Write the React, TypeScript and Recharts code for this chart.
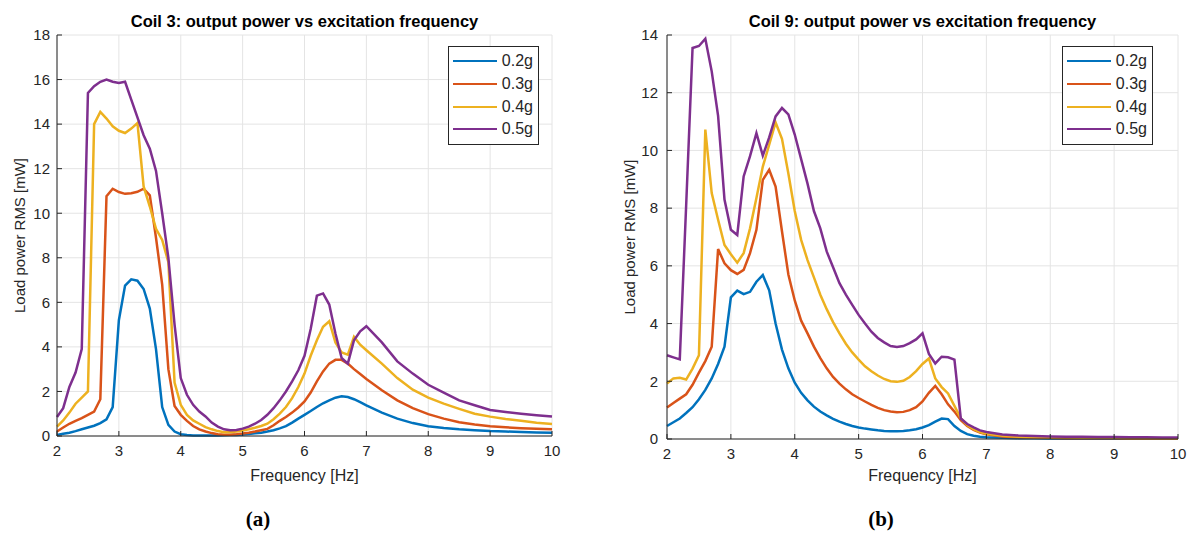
import { LineChart, Line, XAxis, YAxis, CartesianGrid, Legend } from 'recharts';

// frequency grid [Hz]
const freq = [
  2.0, 2.1, 2.2, 2.3, 2.4, 2.5, 2.6, 2.7, 2.8, 2.9,
  3.0, 3.1, 3.2, 3.3, 3.4, 3.5, 3.6, 3.7, 3.8, 3.9,
  4.0, 4.1, 4.2, 4.3, 4.4, 4.5, 4.6, 4.7, 4.8, 4.9,
  5.0, 5.1, 5.2, 5.3, 5.4, 5.5, 5.6, 5.7, 5.8, 5.9,
  6.0, 6.1, 6.2, 6.3, 6.4, 6.5, 6.6, 6.7, 6.8, 6.9,
  7.0, 7.25, 7.5, 7.75, 8.0, 8.25, 8.5, 8.75, 9.0, 9.25, 9.5, 9.75, 10.0,
];

// Coil 3 (a)
const coil3_02g = [
  0.05, 0.1, 0.15, 0.22, 0.3, 0.38, 0.46, 0.58, 0.75, 1.3,
  5.2, 6.75, 7.03, 6.97, 6.6, 5.72, 3.9, 1.3, 0.5, 0.2,
  0.08, 0.04, 0.02, 0.02, 0.02, 0.02, 0.02, 0.03, 0.04, 0.05,
  0.07, 0.09, 0.12, 0.15, 0.2, 0.26, 0.34, 0.44, 0.6, 0.78,
  0.95, 1.12, 1.3, 1.47, 1.6, 1.72, 1.78, 1.75, 1.65, 1.52,
  1.38, 1.05, 0.78, 0.58, 0.44, 0.36, 0.3, 0.26, 0.22, 0.2, 0.18, 0.16, 0.15,
];
const coil3_03g = [
  0.2, 0.38, 0.55, 0.68, 0.8, 0.95, 1.1, 1.65, 10.76, 11.1,
  10.95, 10.87, 10.9, 10.96, 11.1, 10.8, 8.9, 6.8, 3.0, 1.35,
  0.95, 0.68, 0.45, 0.3, 0.2, 0.13, 0.08, 0.06, 0.06, 0.08,
  0.11, 0.15, 0.2, 0.26, 0.32, 0.48, 0.68, 0.85, 1.05, 1.28,
  1.55, 1.95, 2.45, 2.9, 3.25, 3.42, 3.42, 3.25, 3.0, 2.78,
  2.56, 2.05, 1.6, 1.25, 0.98, 0.78, 0.62, 0.52, 0.44, 0.39, 0.35, 0.32, 0.3,
];
const coil3_04g = [
  0.42, 0.7, 1.05, 1.45, 1.72, 2.0, 14.0, 14.55, 14.25, 13.9,
  13.7, 13.6, 13.8, 14.05, 11.2, 10.3, 9.3, 8.8, 7.8, 2.4,
  1.4, 0.95, 0.7, 0.55, 0.4, 0.3, 0.22, 0.17, 0.17, 0.2,
  0.25, 0.3, 0.37, 0.45, 0.55, 0.75, 1.0, 1.3, 1.7, 2.2,
  2.8, 3.6, 4.3, 4.9, 5.15, 4.2, 3.75, 3.65, 4.45, 4.1,
  3.85, 3.25, 2.6, 2.08, 1.72, 1.45, 1.22, 1.0, 0.87, 0.76, 0.68, 0.6, 0.54,
];
const coil3_05g = [
  0.85, 1.25, 2.2, 2.85, 3.9, 15.4, 15.7, 15.9, 16.0, 15.9,
  15.85, 15.9, 15.1, 14.3, 13.5, 12.9, 11.9, 10.0, 8.0, 5.0,
  2.6, 1.85, 1.4, 1.1, 0.88, 0.6, 0.42, 0.3, 0.26, 0.27,
  0.33, 0.42, 0.55, 0.72, 0.95, 1.25, 1.6, 2.0, 2.45, 2.95,
  3.6, 4.8, 6.3, 6.4, 5.9, 4.6, 3.5, 3.25, 4.3, 4.7,
  4.93, 4.2, 3.35, 2.8, 2.3, 1.95, 1.6, 1.38, 1.17, 1.08, 1.0, 0.93, 0.87,
];

// Coil 9 (b)
const coil9_02g = [
  0.45, 0.58, 0.71, 0.9, 1.1, 1.38, 1.7, 2.1, 2.6, 3.2,
  4.91, 5.14, 5.02, 5.1, 5.45, 5.68, 5.15, 4.0, 3.1, 2.45,
  1.95, 1.6, 1.34, 1.12, 0.95, 0.82, 0.7, 0.6, 0.52, 0.45,
  0.4, 0.36, 0.33, 0.3, 0.28, 0.27, 0.27, 0.28, 0.3, 0.34,
  0.4, 0.48, 0.6, 0.71, 0.69, 0.45, 0.28, 0.17, 0.11, 0.08,
  0.06, 0.04, 0.03, 0.03, 0.02, 0.02, 0.02, 0.02, 0.02, 0.02, 0.02, 0.02, 0.02,
];
const coil9_03g = [
  1.09, 1.25, 1.4, 1.55, 1.88, 2.3, 2.7, 3.2, 6.58, 6.09,
  5.85, 5.72, 5.86, 6.44, 7.25, 8.98, 9.33, 8.75, 7.2, 5.7,
  4.8, 4.1, 3.66, 3.2, 2.8, 2.45, 2.15, 1.92, 1.72, 1.55,
  1.42, 1.3, 1.18, 1.08, 1.0, 0.95, 0.93, 0.94, 1.0, 1.1,
  1.3, 1.6, 1.84, 1.55, 1.2, 0.95, 0.65, 0.45, 0.32, 0.22,
  0.16, 0.09, 0.06, 0.05, 0.04, 0.03, 0.03, 0.03, 0.03, 0.02, 0.02, 0.02, 0.02,
];
const coil9_04g = [
  1.92, 2.1, 2.12, 2.06, 2.44, 2.9, 10.72, 8.52, 7.6, 6.72,
  6.4, 6.11, 6.44, 7.3, 8.35, 9.44, 10.2, 10.97, 10.4, 9.2,
  7.9, 6.9, 6.2, 5.6, 5.0, 4.5, 4.05, 3.66, 3.3, 3.0,
  2.75, 2.52, 2.35, 2.2, 2.08, 2.0, 1.98, 2.02, 2.15, 2.35,
  2.6, 2.79, 2.1, 1.8, 1.58, 1.15, 0.72, 0.48, 0.34, 0.24,
  0.18, 0.11, 0.08, 0.06, 0.05, 0.05, 0.04, 0.04, 0.04, 0.03, 0.03, 0.03, 0.03,
];
const coil9_05g = [
  2.9, 2.83, 2.76, 8.1, 13.55, 13.62, 13.87, 12.74, 11.2, 8.3,
  7.25, 7.07, 9.1, 9.8, 10.6, 9.82, 10.45, 11.18, 11.47, 11.25,
  10.55, 9.7, 8.85, 7.9, 7.3, 6.5, 5.95, 5.4, 5.0, 4.65,
  4.3, 4.0, 3.72, 3.5, 3.35, 3.22, 3.19, 3.22, 3.32, 3.45,
  3.66, 2.95, 2.62, 2.85, 2.83, 2.75, 0.71, 0.52, 0.4, 0.3,
  0.24, 0.16, 0.12, 0.1, 0.09, 0.08, 0.08, 0.07, 0.07, 0.06, 0.06, 0.05, 0.05,
];

const seriesNames = ['0.2g', '0.3g', '0.4g', '0.5g'];
const colors = ['#0072BD', '#D95319', '#EDB120', '#7E2F8E'];
const xTicks = [2, 3, 4, 5, 6, 7, 8, 9, 10];
const yTicksA = [0, 2, 4, 6, 8, 10, 12, 14, 16, 18];
const yTicksB = [0, 2, 4, 6, 8, 10, 12, 14];

const FONT = '"Liberation Sans", Arial, sans-serif';
const AX = '#262626';

const buildRows = (series: number[][]) =>
  freq.map((f, i) => {
    const row: any = { f };
    series.forEach((s, k) => (row[seriesNames[k]] = s[i]));
    return row;
  });

const renderLegend = (props: any) => (
  <div style={{ border: `1px solid ${AX}`, background: '#fff', padding: '3px 5px 3px 4px', fontFamily: FONT, fontSize: 16, color: AX, width: 80 }}>
    {props.payload.map((p: any) => (
      <div key={p.value} style={{ display: 'flex', alignItems: 'center', height: 22.7 }}>
        <span style={{ display: 'inline-block', width: 44, borderTop: `2.5px solid ${p.color}`, marginRight: 5 }} />
        <span>{p.value}</span>
      </div>
    ))}
  </div>
);

function Panel({ rows, yTicks, yMax, width, xAxisH, right, legendLeft, tickGap }: any) {
  return (
    <LineChart width={width} height={490} data={rows} margin={{ top: 35, left: 0, right, bottom: 0 }}>
      <CartesianGrid stroke="#e4e4e4" />
      <XAxis dataKey="f" type="number" domain={[2, 10]} ticks={xTicks} height={xAxisH}
        stroke={AX} tickSize={-5} tickMargin={14}
        tick={{ fill: AX, fontSize: 15, fontFamily: FONT }}
        label={{ value: 'Frequency [Hz]', position: 'insideBottom', offset: 9, fill: AX, fontSize: 16, fontFamily: FONT }} />
      <XAxis xAxisId="top" orientation="top" type="number" domain={[2, 10]} ticks={xTicks} height={0}
        stroke={AX} tickSize={-5} tick={false} />
      <YAxis type="number" domain={[0, yMax]} ticks={yTicks} width={57} interval={0}
        stroke={AX} tickSize={-5} tickMargin={tickGap}
        tick={{ fill: AX, fontSize: 15, fontFamily: FONT }}
        label={{ value: 'Load power RMS [mW]', angle: -90, position: 'insideLeft', offset: 20, fill: AX, fontSize: 15, fontFamily: FONT, style: { textAnchor: 'middle' } }} />
      <YAxis yAxisId="right" orientation="right" type="number" domain={[0, yMax]} ticks={yTicks} width={0}
        stroke={AX} tickSize={-5} tick={false} />
      <Legend content={renderLegend} layout="vertical" align="center" verticalAlign="middle"
        wrapperStyle={{ left: legendLeft, top: 46, width: 'auto' }} />
      {seriesNames.map((n, k) => (
        <Line key={n} dataKey={n} name={n} type="linear" stroke={colors[k]} strokeWidth={2.5}
          dot={false} isAnimationActive={false} />
      ))}
    </LineChart>
  );
}

export default function App() {
  const rowsA = buildRows([coil3_02g, coil3_03g, coil3_04g, coil3_05g]);
  const rowsB = buildRows([coil9_02g, coil9_03g, coil9_04g, coil9_05g]);
  const title = { position: 'absolute' as const, top: 12, fontFamily: FONT, fontWeight: 700, fontSize: 16.5, color: '#000', textAlign: 'center' as const };
  const caption = { position: 'absolute' as const, top: 507, fontFamily: '"Liberation Serif", "Times New Roman", serif', fontWeight: 700, fontSize: 21, width: 60, textAlign: 'center' as const };
  return (
    <div style={{ position: 'absolute', left: 0, top: 0, width: 1189, height: 541, background: '#fff', overflow: 'hidden' }}>
      <div style={{ position: 'absolute', left: 0, top: 0 }}>
        <Panel rows={rowsA} yTicks={yTicksA} yMax={18} width={570} xAxisH={54} right={18} legendLeft={448} tickGap={12} />
      </div>
      <div style={{ position: 'absolute', left: 610, top: 0 }}>
        <Panel rows={rowsB} yTicks={yTicksB} yMax={14} width={579} xAxisH={51} right={11} legendLeft={452} tickGap={14} />
      </div>
      <div style={{ ...title, left: 57, width: 495 }}>Coil 3: output power vs excitation frequency</div>
      <div style={{ ...title, left: 667, width: 511 }}>Coil 9: output power vs excitation frequency</div>
      <div style={{ ...caption, left: 228 }}>(a)</div>
      <div style={{ ...caption, left: 851 }}>(b)</div>
    </div>
  );
}
